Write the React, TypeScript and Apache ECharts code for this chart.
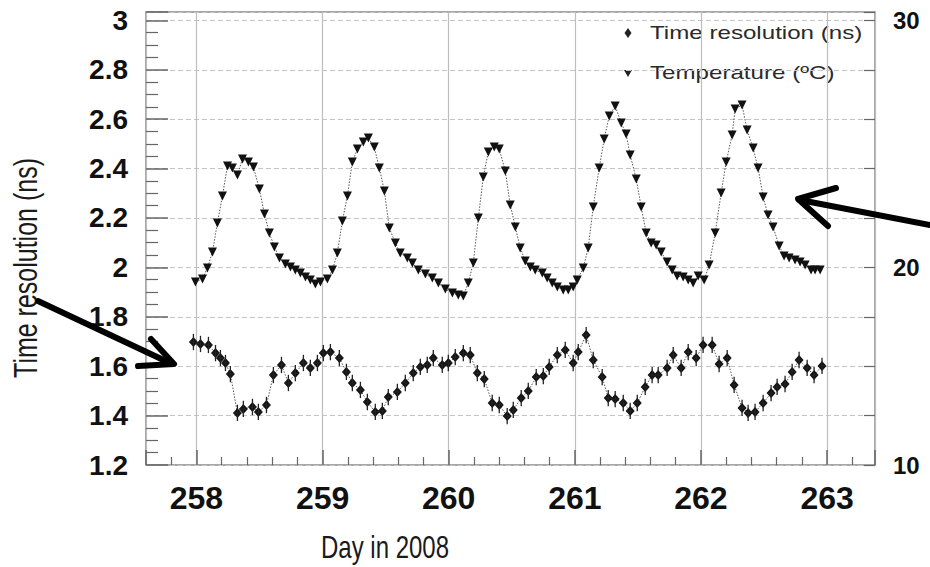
import React, { useEffect, useRef } from 'react';
import * as echarts from 'echarts';

// Temperature (plotted on the shared scale; right axis labels 10 / 20 / 30)
const tempDay = [
  257.992, 258.048, 258.087, 258.127, 258.166, 258.206, 258.246, 258.285, 258.325, 258.365,
  258.412, 258.452, 258.499, 258.539, 258.578, 258.618, 258.658, 258.705, 258.745, 258.784,
  258.824, 258.864, 258.903, 258.943, 258.983, 259.038, 259.078, 259.117, 259.157, 259.197,
  259.236, 259.276, 259.323, 259.363, 259.410, 259.450, 259.490, 259.529, 259.577, 259.616,
  259.672, 259.712, 259.759, 259.815, 259.870, 259.918, 259.973, 260.029, 260.076, 260.116,
  260.155, 260.195, 260.235, 260.274, 260.314, 260.361, 260.401, 260.449, 260.488, 260.528,
  260.567, 260.607, 260.647, 260.686, 260.742, 260.781, 260.821, 260.861, 260.908, 260.948,
  260.987, 261.019, 261.067, 261.106, 261.146, 261.193, 261.233, 261.273, 261.320, 261.368,
  261.407, 261.439, 261.487, 261.526, 261.566, 261.605, 261.645, 261.685, 261.732, 261.772,
  261.811, 261.859, 261.899, 261.938, 261.978, 262.025, 262.065, 262.113, 262.160, 262.200,
  262.247, 262.271, 262.326, 262.366, 262.414, 262.453, 262.493, 262.532, 262.572, 262.620,
  262.659, 262.699, 262.746, 262.786, 262.826, 262.873, 262.905, 262.945,
];
const tempValue = [
  1.941, 1.953, 1.998, 2.062, 2.180, 2.289, 2.411, 2.402, 2.374, 2.439,
  2.427, 2.406, 2.317, 2.216, 2.139, 2.083, 2.038, 2.014, 2.002, 1.989,
  1.977, 1.961, 1.949, 1.933, 1.941, 1.953, 1.989, 2.058, 2.188, 2.289,
  2.427, 2.479, 2.508, 2.524, 2.487, 2.402, 2.309, 2.160, 2.099, 2.058,
  2.038, 2.018, 1.989, 1.973, 1.957, 1.937, 1.913, 1.896, 1.888, 1.884,
  1.937, 2.018, 2.200, 2.366, 2.467, 2.487, 2.479, 2.390, 2.253, 2.164,
  2.079, 2.026, 2.002, 1.989, 1.977, 1.957, 1.937, 1.921, 1.909, 1.909,
  1.921, 1.949, 1.998, 2.079, 2.245, 2.402, 2.520, 2.613, 2.653, 2.585,
  2.540, 2.455, 2.358, 2.245, 2.139, 2.099, 2.091, 2.062, 2.022, 1.989,
  1.965, 1.961, 1.949, 1.937, 1.965, 1.949, 2.010, 2.139, 2.301, 2.427,
  2.536, 2.641, 2.657, 2.556, 2.483, 2.402, 2.285, 2.212, 2.164, 2.087,
  2.046, 2.038, 2.030, 2.022, 2.010, 1.989, 1.989, 1.989,
];

// Time resolution (ns)
const resDay = [
  257.976, 258.032, 258.095, 258.151, 258.190, 258.230, 258.269, 258.325, 258.372, 258.444,
  258.491, 258.555, 258.610, 258.674, 258.729, 258.784, 258.848, 258.903, 258.959, 259.006,
  259.062, 259.133, 259.189, 259.236, 259.300, 259.355, 259.418, 259.474, 259.521, 259.593,
  259.656, 259.719, 259.775, 259.830, 259.878, 259.949, 259.997, 260.052, 260.116, 260.171,
  260.227, 260.282, 260.345, 260.401, 260.464, 260.512, 260.575, 260.631, 260.694, 260.750,
  260.797, 260.861, 260.924, 260.987, 261.027, 261.090, 261.146, 261.217, 261.265, 261.320,
  261.384, 261.439, 261.495, 261.558, 261.613, 261.661, 261.732, 261.780, 261.843, 261.899,
  261.962, 262.017, 262.089, 262.144, 262.208, 262.263, 262.326, 262.374, 262.429, 262.493,
  262.556, 262.604, 262.667, 262.723, 262.778, 262.842, 262.897, 262.960,
];
const resValue = [
  1.698, 1.690, 1.686, 1.653, 1.633, 1.613, 1.568, 1.411, 1.427, 1.435,
  1.415, 1.443, 1.564, 1.605, 1.532, 1.572, 1.613, 1.593, 1.613, 1.653,
  1.657, 1.633, 1.577, 1.532, 1.504, 1.455, 1.415, 1.419, 1.475, 1.496,
  1.532, 1.572, 1.597, 1.605, 1.633, 1.605, 1.613, 1.637, 1.653, 1.645,
  1.572, 1.548, 1.451, 1.443, 1.398, 1.423, 1.471, 1.500, 1.556, 1.560,
  1.597, 1.645, 1.666, 1.613, 1.657, 1.726, 1.625, 1.556, 1.471, 1.467,
  1.451, 1.419, 1.451, 1.516, 1.564, 1.564, 1.593, 1.645, 1.593, 1.657,
  1.633, 1.686, 1.686, 1.609, 1.633, 1.524, 1.431, 1.411, 1.415, 1.451,
  1.491, 1.516, 1.528, 1.577, 1.625, 1.593, 1.564, 1.601,
];
const resErrY = 0.033; // ns
const resErrX = 0.028; // day

const xLabels = ['258', '259', '260', '261', '262', '263'];
const leftLabels = ['1.2', '1.4', '1.6', '1.8', '2', '2.2', '2.4', '2.6', '2.8', '3'];
const rightLabelAt: Record<string, string> = { '1.2': '10', '2': '20', '3': '30' };

const FONT = "'Liberation Sans', Arial, Helvetica, sans-serif";

function keyOf(v: number): string {
  const k = Math.round(v * 5);
  if (Math.abs(v * 5 - k) > 1e-6) return '';
  const val = k / 5;
  return Number.isInteger(val) ? String(val) : val.toFixed(1);
}

export default function App() {
  const ref = useRef<HTMLDivElement>(null);

  useEffect(() => {
    if (!ref.current) return;
    const chart = echarts.init(ref.current, undefined, { renderer: 'svg' });

    const tempData = tempDay.map((d, i) => [d, tempValue[i]]);
    const resData = resDay.map((d, i) => [d, resValue[i]]);

    const option: any = {
      animation: false,
      backgroundColor: '#ffffff',
      grid: {
        left: 146,
        right: 55,
        top: 12,
        bottom: 102,
        show: true,
        borderColor: '#8a8a8a',
        borderWidth: 1.5,
        backgroundColor: 'transparent',
      },
      xAxis: {
        type: 'value',
        min: 257.6,
        max: 263.38,
        axisLine: { show: false },
        axisTick: { show: true, inside: true, length: 15, lineStyle: { color: '#666', width: 1.5 } },
        minorTick: { show: true, splitNumber: 5, length: 8, lineStyle: { color: '#666', width: 1.2 } },
        splitLine: { show: true, lineStyle: { color: '#bdbdbd', width: 1.2, type: 'solid' } },
        axisLabel: {
          margin: 17,
          fontSize: 32,
          fontWeight: 'bold',
          fontFamily: FONT,
          color: '#111',
          formatter: (v: number) => {
            const s = String(Math.round(v));
            return Math.abs(v - Math.round(v)) < 1e-6 && xLabels.includes(s) ? s : '';
          },
        },
      },
      yAxis: [
        {
          type: 'value',
          min: 1.2,
          max: 3.034,
          interval: 0.2,
          axisLine: { show: false },
          axisTick: { show: true, inside: true, length: 22, lineStyle: { color: '#666', width: 1.5 } },
          minorTick: { show: true, splitNumber: 4, length: 12, lineStyle: { color: '#666', width: 1.2 } },
          splitLine: { show: true, lineStyle: { color: '#c4c4c4', width: 1.2, type: [5, 3] } },
          axisLabel: {
            margin: 18,
            fontSize: 28,
            fontWeight: 'bold',
            fontFamily: FONT,
            color: '#111',
            formatter: (v: number) => {
              const k = keyOf(v);
              return leftLabels.includes(k) && v < 3.01 ? k : '';
            },
          },
        },
        {
          type: 'value',
          position: 'right',
          min: 1.2,
          max: 3.034,
          interval: 0.2,
          axisLine: { show: false },
          axisTick: { show: true, inside: true, length: 11, lineStyle: { color: '#666', width: 1.2 } },
          splitLine: { show: false },
          axisLabel: {
            margin: 18,
            fontSize: 24,
            fontWeight: 'bold',
            fontFamily: FONT,
            color: '#111',
            formatter: (v: number) => (v < 3.01 ? rightLabelAt[keyOf(v)] || '' : ''),
          },
        },
      ],
      series: [
        {
          name: 'Temperature (ºC)',
          type: 'line',
          yAxisIndex: 1,
          data: tempData,
          symbol: 'triangle',
          symbolRotate: 180,
          symbolSize: [9, 9],
          lineStyle: { color: '#555', width: 1, type: [1.5, 1.5] },
          itemStyle: { color: '#111' },
          z: 3,
        },
        {
          name: 'errors',
          type: 'custom',
          data: resData,
          renderItem: (_p: any, api: any) => {
            const x = api.value(0);
            const y = api.value(1);
            const t = api.coord([x, y + resErrY]);
            const b = api.coord([x, y - resErrY]);
            const l = api.coord([x - resErrX, y]);
            const r = api.coord([x + resErrX, y]);
            return {
              type: 'group',
              children: [
                { type: 'line', shape: { x1: t[0], y1: t[1], x2: b[0], y2: b[1] }, style: { stroke: '#222', lineWidth: 1.3 } },
                { type: 'line', shape: { x1: l[0], y1: l[1], x2: r[0], y2: r[1] }, style: { stroke: '#222', lineWidth: 1.3 } },
              ],
            };
          },
          z: 5,
        },
        {
          name: 'Time resolution (ns)',
          type: 'line',
          data: resData,
          symbol: 'diamond',
          symbolSize: [9, 10],
          lineStyle: { color: '#555', width: 1, type: [1.5, 1.5] },
          itemStyle: { color: '#111' },
          z: 4,
        },
      ],
      graphic: [
        {
          type: 'text',
          x: 26,
          y: 268,
          rotation: Math.PI / 2,
          scaleY: 1.3,
          style: { text: 'Time resolution (ns)', fontSize: 25, fontFamily: FONT, fill: '#1a1a1a', align: 'center', verticalAlign: 'middle' },
        },
        {
          type: 'text',
          x: 385,
          y: 547,
          scaleY: 1.3,
          style: { text: 'Day in 2008', fontSize: 24, fontFamily: FONT, fill: '#1a1a1a', align: 'center', verticalAlign: 'middle' },
        },
        // legend
        {
          type: 'polygon',
          shape: { points: [[628, 28], [631.5, 33], [628, 38], [624.5, 33]] },
          style: { fill: '#222' },
        },
        {
          type: 'polygon',
          shape: { points: [[624, 70], [632, 70], [628, 77]] },
          style: { fill: '#222' },
        },
        {
          type: 'text',
          x: 650,
          y: 33,
          scaleX: 1.42,
          scaleY: 1.05,
          style: { text: 'Time resolution (ns)', fontSize: 17, fontFamily: FONT, fill: '#2a2a2a', align: 'left', verticalAlign: 'middle' },
        },
        {
          type: 'text',
          x: 650,
          y: 73,
          scaleX: 1.42,
          scaleY: 1.05,
          style: { text: 'Temperature (ºC)', fontSize: 17, fontFamily: FONT, fill: '#2a2a2a', align: 'left', verticalAlign: 'middle' },
        },
        // arrows
        {
          type: 'polyline',
          shape: { points: [[38, 301], [172, 364]] },
          style: { stroke: '#000', lineWidth: 6, lineCap: 'round' },
          z: 100,
        },
        {
          type: 'polyline',
          shape: { points: [[151, 339], [174, 364], [138, 366]] },
          style: { stroke: '#000', lineWidth: 6, lineCap: 'round', lineJoin: 'round', fill: 'none' },
          z: 100,
        },
        {
          type: 'polyline',
          shape: { points: [[930, 225], [800, 200]] },
          style: { stroke: '#000', lineWidth: 6, lineCap: 'round' },
          z: 100,
        },
        {
          type: 'polyline',
          shape: { points: [[836, 188], [798, 199], [828, 226]] },
          style: { stroke: '#000', lineWidth: 6, lineCap: 'round', lineJoin: 'round', fill: 'none' },
          z: 100,
        },
      ],
    };

    chart.setOption(option);
    return () => chart.dispose();
  }, []);

  return (
    <div
      ref={ref}
      style={{ position: 'fixed', left: 0, top: 0, width: 930, height: 567, background: '#fff' }}
    />
  );
}
